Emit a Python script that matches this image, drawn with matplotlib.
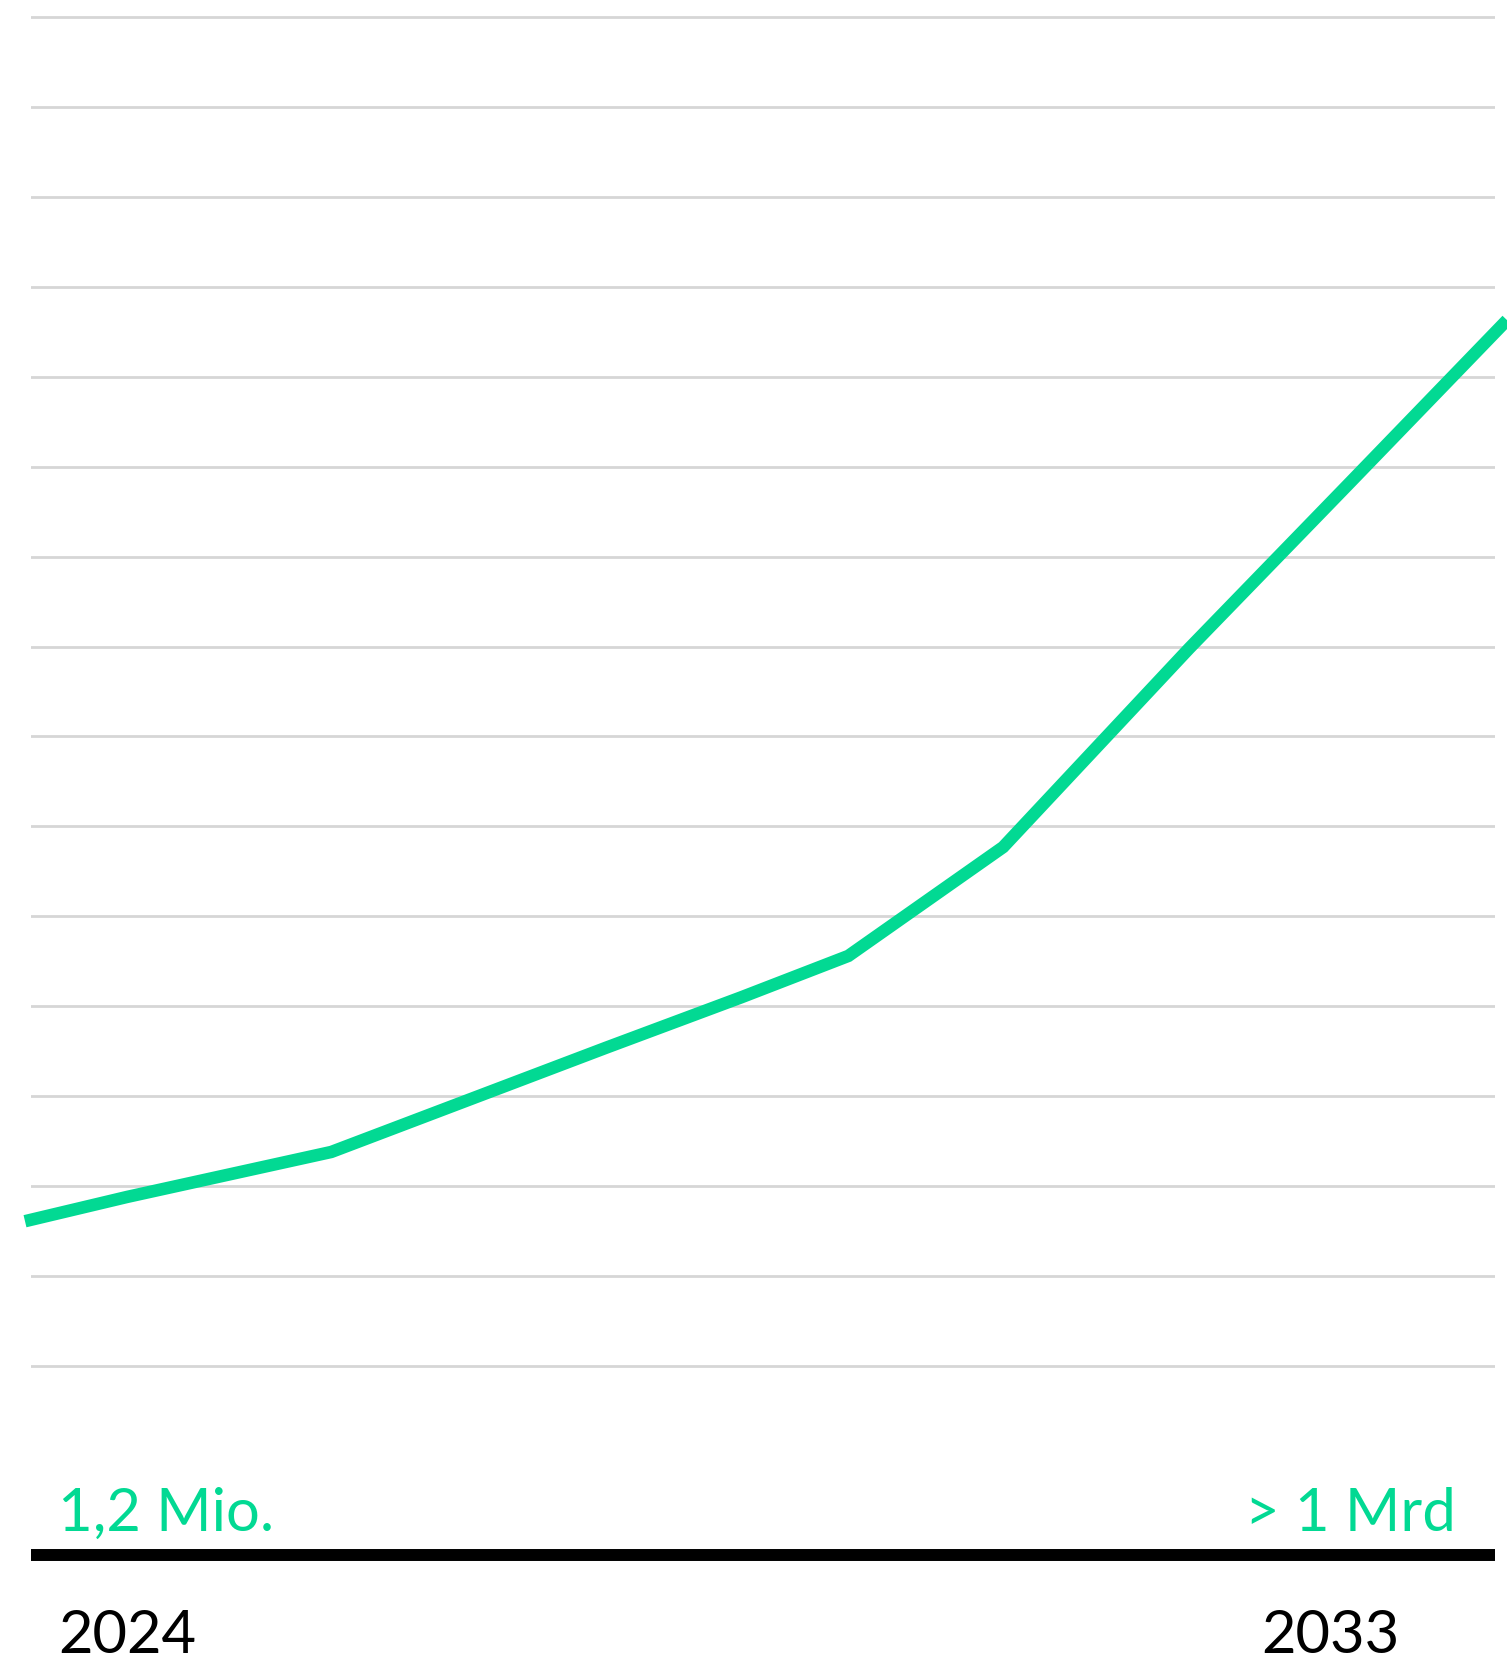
import matplotlib as mpl

mpl.use("Agg")
import matplotlib.pyplot as plt

# growth curve, x in years, y in gridline units (gridline 0 = lowest)
years = [2024.0, 2024.62, 2025.86, 2027.53, 2028.35, 2029.0, 2029.94, 2031.07, 2032.05, 2033.0]
values = [1.61, 1.88, 2.38, 3.54, 4.10, 4.56, 5.77, 7.98, 9.83, 11.63]

grid_levels = list(range(16))
start_label = "1,2 Mio."
end_label = "> 1 Mrd"
start_year = "2024"
end_year = "2033"

GREEN = "#02d993"
GRID = "#d6d6d6"
W, H = 1507, 1663
DPI = 100

plt.rcParams["font.family"] = ["Lato", "DejaVu Sans"]

fig = plt.figure(figsize=(W / DPI, H / DPI), dpi=DPI)
fig.patch.set_facecolor("white")

# axes box in pixels: x 31..1495, y 5..1555 (top to bottom)
left_px, right_px, top_px, bottom_px = 31, 1495, 5, 1555
ax = fig.add_axes([left_px / W, 1 - bottom_px / H, (right_px - left_px) / W, (bottom_px - top_px) / H])

# x mapping: 2024 at px 25, 2033 at px 1507
yr_per_px = (2033 - 2024) / (1507 - 25)
ax.set_xlim(2024 + (left_px - 25) * yr_per_px, 2024 + (right_px - 25) * yr_per_px)
# y mapping: gridline 0 at px 1366, spacing 89.93 px
step = 89.93
ax.set_ylim((1366 - bottom_px) / step, (1366 - top_px) / step)

ax.set_yticks(grid_levels)
ax.set_xticks([])
ax.yaxis.grid(True, color=GRID, linewidth=2.0)
ax.tick_params(axis="y", length=0, labelleft=False)
ax.set_axisbelow(True)

for side in ("top", "left", "right"):
    ax.spines[side].set_visible(False)
ax.spines["bottom"].set_color("black")
ax.spines["bottom"].set_linewidth(8.6)
ax.spines["bottom"].set_capstyle("butt")

ax.plot(years, values, color=GREEN, linewidth=9.0, solid_joinstyle="miter",
        solid_capstyle="butt", clip_on=False, zorder=3)

fig.text(58 / W, 1 - 1531 / H, start_label, color=GREEN, fontsize=43, va="baseline", ha="left")
fig.text(1456 / W, 1 - 1531 / H, end_label, color=GREEN, fontsize=43, va="baseline", ha="right")
fig.text(58 / W, 1 - 1653 / H, start_year, color="black", fontsize=43, va="baseline", ha="left")
fig.text(1400 / W, 1 - 1653 / H, end_year, color="black", fontsize=43, va="baseline", ha="right")

fig.savefig("out.png", dpi=DPI, facecolor="white")
plt.close(fig)
